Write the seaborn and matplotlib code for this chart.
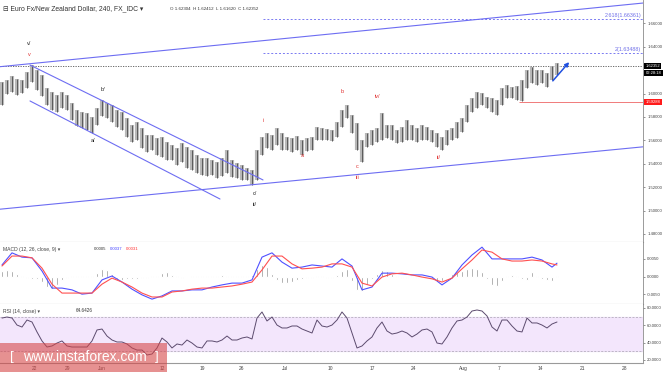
import numpy as np
import pandas as pd
import matplotlib
matplotlib.use("Agg")
import matplotlib.pyplot as plt
import seaborn as sns
from matplotlib.patches import Rectangle

bar_high = [1.6099, 1.6116, 1.6150, 1.6125, 1.6116, 1.6185, 1.6244, 1.6202, 1.6159, 1.6048,
            1.6014, 1.5988, 1.6014, 1.5988, 1.5920, 1.5860, 1.5843, 1.5834, 1.5800, 1.5877,
            1.5945, 1.5920, 1.5903, 1.5860, 1.5843, 1.5791, 1.5732, 1.5757, 1.5706, 1.5646,
            1.5646, 1.5621, 1.5629, 1.5586, 1.5561, 1.5535, 1.5578, 1.5544, 1.5518, 1.5475,
            1.5450, 1.5450, 1.5432, 1.5415, 1.5450, 1.5518, 1.5432, 1.5407, 1.5390, 1.5364,
            1.5347, 1.5518, 1.5629, 1.5663, 1.5646, 1.5706, 1.5663, 1.5629, 1.5621, 1.5638,
            1.5603, 1.5621, 1.5629, 1.5715, 1.5706, 1.5697, 1.5689, 1.5757, 1.5860, 1.5903,
            1.5817, 1.5749, 1.5603, 1.5663, 1.5689, 1.5706, 1.5834, 1.5732, 1.5732, 1.5689,
            1.5715, 1.5774, 1.5732, 1.5706, 1.5732, 1.5715, 1.5689, 1.5663, 1.5629, 1.5689,
            1.5706, 1.5757, 1.5791, 1.5903, 1.5962, 1.6014, 1.6005, 1.5971, 1.5962, 1.5945,
            1.6048, 1.6073, 1.6056, 1.6065, 1.6116, 1.6202, 1.6227, 1.6202, 1.6202, 1.6176,
            1.6236, 1.6262]
bar_low = [1.5903, 1.5997, 1.6014, 1.5988, 1.6005, 1.6048, 1.6099, 1.6031, 1.5979, 1.5903,
           1.5860, 1.5843, 1.5877, 1.5860, 1.5774, 1.5723, 1.5706, 1.5689, 1.5663, 1.5732,
           1.5809, 1.5791, 1.5757, 1.5715, 1.5689, 1.5629, 1.5586, 1.5603, 1.5535, 1.5501,
           1.5518, 1.5475, 1.5458, 1.5432, 1.5432, 1.5390, 1.5415, 1.5364, 1.5347, 1.5321,
           1.5304, 1.5296, 1.5304, 1.5279, 1.5296, 1.5321, 1.5287, 1.5279, 1.5262, 1.5262,
           1.5219, 1.5262, 1.5475, 1.5535, 1.5518, 1.5561, 1.5518, 1.5518, 1.5501, 1.5518,
           1.5475, 1.5509, 1.5518, 1.5603, 1.5603, 1.5603, 1.5595, 1.5629, 1.5715, 1.5791,
           1.5663, 1.5518, 1.5415, 1.5544, 1.5561, 1.5586, 1.5603, 1.5621, 1.5603, 1.5578,
           1.5586, 1.5603, 1.5603, 1.5586, 1.5603, 1.5603, 1.5586, 1.5544, 1.5518, 1.5561,
           1.5603, 1.5621, 1.5672, 1.5757, 1.5843, 1.5877, 1.5903, 1.5877, 1.5843, 1.5817,
           1.5903, 1.5962, 1.5962, 1.5945, 1.5937, 1.6048, 1.6091, 1.6073, 1.6091, 1.6056,
           1.6116, 1.6159]

# MACD (12, 26, close, 9) - lines read every second bar, histogram every bar
macd_line = [0.0033, 0.0067, 0.0055, 0.0053, 0.0016, -0.0032, -0.0032, -0.0037, -0.0049, -0.0046,
             -0.0009, 0.0002, -0.0015, -0.0035, -0.0051, -0.0063, -0.0054, -0.0040, -0.0040, -0.0037,
             -0.0037, -0.0029, -0.0023, -0.0018, -0.0018, -0.0009, 0.0055, 0.0067, 0.0041, 0.0024,
             0.0027, 0.0033, 0.0030, 0.0027, 0.0050, 0.0030, -0.0037, -0.0029, 0.0010, 0.0010,
             0.0008, 0.0005, 0.0005, -0.0001, -0.0023, -0.0004, 0.0033, 0.0061, 0.0083, 0.0050,
             0.0050, 0.0050, 0.0050, 0.0055, 0.0047, 0.0027, 0.0038]
signal_line = [0.0030, 0.0058, 0.0058, 0.0053, 0.0024, -0.0021, -0.0046, -0.0046, -0.0046, -0.0046,
               -0.0021, -0.0004, -0.0015, -0.0029, -0.0046, -0.0057, -0.0057, -0.0043, -0.0040, -0.0035,
               -0.0032, -0.0032, -0.0029, -0.0026, -0.0021, -0.0015, 0.0019, 0.0058, 0.0058, 0.0036,
               0.0022, 0.0024, 0.0027, 0.0036, 0.0036, 0.0027, -0.0018, -0.0026, -0.0001, 0.0008,
               0.0010, 0.0005, -0.0001, -0.0006, -0.0015, -0.0004, 0.0022, 0.0047, 0.0075, 0.0069,
               0.0050, 0.0044, 0.0044, 0.0047, 0.0044, 0.0036, 0.0033]
macd_hist = [0.0017, 0.0020, 0.0017, 0.0008, 0.0001, -0.0003, -0.0006, -0.0006, -0.0014, -0.0028,
             -0.0034, -0.0022, -0.0008, -0.0003, 0.0003, 0.0001, 0.0003, 0.0003, 0.0001, 0.0011,
             0.0022, 0.0020, 0.0008, -0.0006, -0.0008, -0.0006, -0.0006, -0.0006, -0.0003, -0.0003,
             0.0001, 0.0003, 0.0011, 0.0014, 0.0006, 0.0001, -0.0003, -0.0001, 0.0001, 0.0003,
             0.0001, 0.0001, 0.0003, 0.0003, 0.0006, 0.0003, 0.0001, 0.0001, 0.0003, 0.0001,
             0.0006, 0.0022, 0.0034, 0.0028, 0.0008, -0.0008, -0.0017, -0.0017, -0.0014, -0.0008,
             -0.0006, -0.0003, -0.0003, 0.0003, 0.0003, -0.0003, -0.0003, 0.0006, 0.0017, 0.0022,
             -0.0011, -0.0037, -0.0039, -0.0022, -0.0006, 0.0008, 0.0020, 0.0017, 0.0008, 0.0003,
             -0.0003, -0.0003, 0.0001, -0.0003, 0.0003, 0.0001, -0.0006, -0.0014, -0.0011, 0.0001,
             0.0008, 0.0014, 0.0017, 0.0022, 0.0025, 0.0022, 0.0014, -0.0006, -0.0022, -0.0025,
             -0.0011, 0.0001, 0.0006, 0.0003, -0.0006, -0.0008, 0.0014, 0.0003, -0.0006, -0.0008,
             -0.0011, 0.0003]

# RSI (14, close)
rsi_vals = [68.4, 69.6, 68.4, 60.3, 58.0, 66.1, 63.8, 52.3, 41.9, 34.9,
            36.1, 39.5, 41.9, 36.1, 34.9, 34.9, 34.9, 34.9, 41.9, 54.6,
            55.7, 47.6, 43.0, 40.7, 40.7, 38.4, 33.8, 31.4, 31.4, 25.7,
            26.8, 33.8, 45.3, 40.7, 33.8, 38.4, 37.2, 43.0, 39.5, 34.9,
            33.8, 41.9, 41.9, 40.7, 43.0, 47.6, 43.0, 43.0, 45.3, 46.5,
            44.2, 68.4, 75.4, 65.0, 69.6, 60.3, 56.9, 56.9, 59.2, 59.2,
            55.7, 53.4, 51.1, 66.1, 59.2, 58.0, 60.3, 66.1, 75.4, 68.4,
            51.1, 33.8, 36.1, 41.9, 46.5, 56.9, 63.8, 53.4, 49.9, 51.1,
            53.4, 51.1, 46.5, 49.9, 54.6, 55.7, 52.3, 39.5, 38.4, 46.5,
            56.9, 65.0, 66.1, 69.6, 76.5, 77.7, 76.5, 70.8, 58.0, 53.4,
            66.1, 66.1, 59.2, 53.4, 52.3, 68.4, 62.7, 62.7, 60.3, 56.9,
            61.5, 63.8]

date_ticks = [6.6, 13.2, 20, 32, 40, 48, 56.6, 65.6, 74, 82.4, 92.2, 99.4, 107.6, 116.2, 124.6]
date_labels = ["22", "29", "Jun", "12", "19", "26", "Jul", "10", "17", "24", "Aug", "7", "14", "21", "28"]
price_ticks = [1.48, 1.50, 1.52, 1.54, 1.56, 1.58, 1.60, 1.64, 1.66]

last_close = 1.62352
stop_level = 1.59288
fib_levels = [1.63488, 1.66361]
fib_labels = ["2(1.63488)", "2.618(1.66361)"]

# trend channel lines (start / end points)
trend_lines = [((-0.4, 1.6230), (128.2, 1.6774)),
               ((-0.4, 1.5012), (128.2, 1.5545)),
               ((5.6, 1.6244), (52.2, 1.5262)),
               ((5.6, 1.5937), (43.6, 1.5099))]

# wave count labels
wave_labels = [("v/", 5.4, 1.6424, "#222222"), ("v", 5.4, 1.6330, "#e03030"),
               ("b/", 20.2, 1.6031, "#222222"), ("a/", 18.2, 1.5603, "#222222"),
               ("c/", 50.6, 1.5150, "#222222"), ("ii/", 50.6, 1.5056, "#222222"),
               ("i", 52.2, 1.5766, "#e03030"), ("a", 60.0, 1.5475, "#e03030"),
               ("b", 68.0, 1.6014, "#e03030"), ("iv/", 75.0, 1.5971, "#e03030"),
               ("c", 71.0, 1.5373, "#e03030"), ("iii", 71.0, 1.5287, "#e03030"),
               ("ii/", 87.4, 1.5450, "#e03030")]

sns.set_style("white")
plt.rcParams['font.family'] = ['Liberation Sans', 'DejaVu Sans']

W, H = 665, 372
fig = plt.figure(figsize=(W / 100, H / 100), dpi=100)
fig.patch.set_facecolor("white")


def fx(px):
    return px / W


def fy(py):
    return 1 - py / H


ax = fig.add_axes([0, fy(242), fx(643), 242 / H])
ax_macd = fig.add_axes([0, fy(304), fx(643), 62 / H], sharex=ax)
ax_rsi = fig.add_axes([0, fy(363), fx(643), 59 / H], sharex=ax)

idx = np.arange(len(bar_high))
macd_x = list(range(0, len(bar_high) - 1, 2)) + [len(bar_high) - 1]

# ---- price panel
ax.vlines(idx, bar_low, bar_high, color="#b8b8b8", lw=3.0, zorder=2)
ax.vlines(idx, bar_low, bar_high, color="#5a5a5a", lw=0.7, zorder=3)

for (x0, y0), (x1, y1) in trend_lines:
    ax.plot([x0, x1], [y0, y1], color="#6d6df2", lw=0.8, zorder=4)

for lvl, lab in zip(fib_levels, fib_labels):
    ax.hlines(lvl, 52.2, 128.2, color="#7a7af2", lw=0.7, linestyles=(0, (2, 2)))
    ax.text(127.9, lvl + 0.0010, lab, color="#6f6fe8", fontsize=3.9, ha="right", va="bottom")

ax.axhline(last_close, color="#555555", lw=0.6, ls=(0, (1.5, 1.5)), zorder=1)
ax.hlines(stop_level, 103.4, 128.2, color="#f07a7a", lw=0.7)

ax.annotate("", xy=(113.8, 1.6287), xytext=(109.8, 1.6091),
            arrowprops=dict(arrowstyle="-|>", color="#2050e0", lw=1.1, mutation_scale=6))

for txt, x, y, c in wave_labels:
    ax.text(x, y, txt, color=c, fontsize=4.0, ha="center", va="center")

ax.set_xlim(-0.4, 128.2)
ax.set_ylim(1.47316, 1.68)
ax.yaxis.tick_right()
ax.set_yticks(price_ticks)
ax.set_yticklabels(["%.5f" % p for p in price_ticks])

ytr = ax.get_yaxis_transform()
box = dict(boxstyle="square,pad=0.3", fc="black", ec="none")
ax.text(1.004, last_close, "1.62352", transform=ytr, fontsize=3.0, color="white", ha="left", va="center",
        bbox=box, clip_on=False)
ax.text(1.004, 1.6178, "02:28:18", transform=ytr, fontsize=3.0, color="white", ha="left", va="center",
        bbox=box, clip_on=False)
ax.text(1.004, stop_level, "1.59288", transform=ytr, fontsize=3.0, color="white", ha="left", va="center",
        bbox=dict(boxstyle="square,pad=0.3", fc="#ff1a1a", ec="none"), clip_on=False)

# ---- MACD panel
ax_macd.bar(idx, macd_hist, width=0.45, color="#858585", zorder=2)
macd_df = pd.DataFrame({"bar": macd_x, "macd": macd_line, "signal": signal_line})
sns.lineplot(data=macd_df, x="bar", y="macd", color="#5050ff", lw=0.8, ax=ax_macd)
sns.lineplot(data=macd_df, x="bar", y="signal", color="#ff5050", lw=0.8, ax=ax_macd)
ax_macd.set_ylim(-0.00767, 0.00975)
ax_macd.yaxis.tick_right()
ax_macd.set_yticks([-0.005, 0.0, 0.005])
ax_macd.set_yticklabels(["-0.0050", "0.0000", "0.0050"])

# ---- RSI panel
ax_rsi.axhspan(30, 70, color="#f3e6fc", zorder=0)
for lvl in (30, 70):
    ax_rsi.axhline(lvl, color="#a9a3b0", lw=0.5, ls=(0, (3, 2)))
rsi_df = pd.DataFrame({"bar": idx, "rsi": rsi_vals})
sns.lineplot(data=rsi_df, x="bar", y="rsi", color="#5c4b6e", lw=0.7, ax=ax_rsi)
ax_rsi.set_ylim(16.42, 84.62)
ax_rsi.yaxis.tick_right()
ax_rsi.set_yticks([20, 40, 60, 80])
ax_rsi.set_yticklabels(["20.0000", "40.0000", "60.0000", "80.0000"])
ax_rsi.set_xticks(date_ticks)
ax_rsi.set_xticklabels(date_labels)

for a in (ax, ax_macd, ax_rsi):
    a.set_xlabel("")
    a.set_ylabel("")
    a.set_facecolor("white")
    for s in ("left", "top"):
        a.spines[s].set_visible(False)
    a.spines["right"].set_color("#8a8a8a")
    a.spines["right"].set_linewidth(0.6)
    a.spines["bottom"].set_color("#9a9a9a")
    a.spines["bottom"].set_linewidth(0.8)
    a.tick_params(axis="y", labelsize=3.1, colors="#444444", length=1.5, width=0.4, pad=1.5)
    a.tick_params(axis="x", labelsize=3.5, colors="#444444", length=0, pad=2)
ax.tick_params(labelbottom=False)
ax_macd.tick_params(labelbottom=False)

# ---- header texts
fig.text(fx(3), fy(9), "\u229f Euro Fx/New Zealand Dollar, 240, FX_IDC \u25be", fontsize=4.9, color="#333333",
         va="center")
fig.text(fx(170), fy(9), "O 1.62304  H 1.62412  L 1.61620  C 1.62352", fontsize=3.2, color="#333333",
         va="center")
fig.text(fx(3), fy(249), "MACD (12, 26, close, 9) \u25be", fontsize=3.6, color="#444444", va="center")
fig.text(fx(94), fy(249), "0.0005", fontsize=3.1, color="#333333", va="center")
fig.text(fx(110), fy(249), "0.0037", fontsize=3.1, color="#4040ff", va="center")
fig.text(fx(126), fy(249), "0.0031", fontsize=3.1, color="#ff3030", va="center")
fig.text(fx(3), fy(311), "RSI (14, close) \u25be", fontsize=3.6, color="#444444", va="center")
fig.text(fx(76), fy(311), "64.6426", fontsize=3.3, color="#333333", va="center")

# ---- watermark
fig.add_artist(Rectangle((0, 0), fx(167), 29 / H, transform=fig.transFigure,
                         fc="#d64848", ec="none", alpha=0.6, zorder=10))
fig.text(fx(12), fy(357), "[", fontsize=9.5, color="white", ha="center", va="center", zorder=11)
fig.text(fx(157), fy(357), "]", fontsize=9.5, color="white", ha="center", va="center", zorder=11)
fig.text(fx(85), fy(357), "www.instaforex.com", fontsize=10, color="white", ha="center", va="center",
         zorder=11)

fig.savefig("out.png", dpi=100, facecolor="white")
